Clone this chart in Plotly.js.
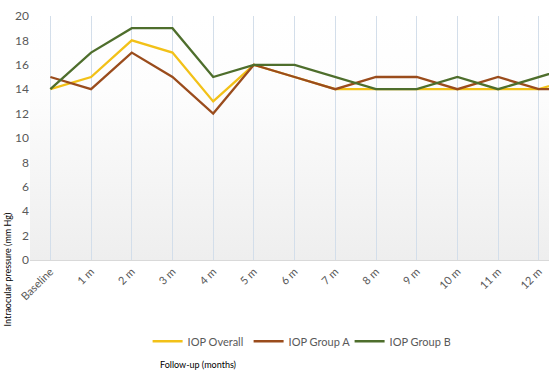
<!DOCTYPE html>
<html>
<head>
<meta charset="utf-8">
<script src="https://cdn.plot.ly/plotly-3.0.1.min.js"></script>
<style>html,body{margin:0;padding:0;background:#fff;}#chart{width:557px;height:375px;}</style>
</head>
<body>
<div id="chart"></div>
<script>
var categories = ["Baseline","1 m","2 m","3 m","4 m","5 m","6 m","7 m","8 m","9 m","10 m","11 m","12 m","18 m"];
var iopOverall = [14, 15, 18, 17, 13, 16, 15, 14, 14, 14, 14, 14, 14, 15];
var iopGroupA  = [15, 14, 17, 15, 12, 16, 15, 14, 15, 15, 14, 15, 14, 14];
var iopGroupB  = [14, 17, 19, 19, 15, 16, 16, 15, 14, 14, 15, 14, 15, 16];
var seriesNames = ["IOP Overall", "IOP Group A", "IOP Group B"];
var yTicks = [0,2,4,6,8,10,12,14,16,18,20];

var colors = ["#f2c118", "#9a4c1c", "#4e6e2c"];
var font = "Lato, 'Open Sans', sans-serif";

var traces = [iopOverall, iopGroupA, iopGroupB].map(function(v, i){
  return {x: categories, y: v, type: "scatter", mode: "lines", name: seriesNames[i],
          line: {color: colors[i], width: 2.3}, cliponaxis: true};
});

var grad = 'data:image/svg+xml;utf8,' + encodeURIComponent(
 '<svg xmlns="http://www.w3.org/2000/svg" width="100" height="100" preserveAspectRatio="none">' +
 '<defs><linearGradient id="g" x1="0" y1="0" x2="0" y2="1">' +
 '<stop offset="0" stop-color="#ffffff"/><stop offset="0.3" stop-color="#fdfdfd"/>' +
 '<stop offset="1" stop-color="#eeeeee"/></linearGradient></defs>' +
 '<rect width="100" height="100" fill="url(#g)"/></svg>');

var layout = {
  width: 557, height: 375,
  margin: {l: 30, r: 8, t: 15.5, b: 114.5, autoexpand: false},
  paper_bgcolor: "#ffffff",
  plot_bgcolor: "rgba(0,0,0,0)",
  font: {family: font, color: "#595959", size: 11},
  showlegend: true,
  legend: {orientation: "h", xref: "container", yref: "container", x: 0.265, y: 0.09,
           xanchor: "left", yanchor: "middle",
           font: {size: 11, color: "#595959", family: font}, itemwidth: 30, traceorder: "normal",
           entrywidth: 56, entrywidthmode: "pixels", bgcolor: "rgba(0,0,0,0)"},
  xaxis: {type: "category", range: [-0.5, 12.25], showgrid: true, gridcolor: "#d3deea", gridwidth: 1,
          tickangle: -45, tickfont: {size: 11, color: "#595959"}, ticks: "", showline: true,
          linecolor: "#d9d9d9", linewidth: 1, zeroline: false, fixedrange: true, automargin: false},
  yaxis: {range: [0, 20], tickvals: yTicks, showgrid: false, zeroline: false, showline: false,
          tickfont: {size: 12, color: "#595959"}, ticks: "", ticklen: 0, fixedrange: true, automargin: false},
  images: [{source: grad, xref: "paper", yref: "paper", x: 0, y: 1, sizex: 1, sizey: 1,
            sizing: "stretch", layer: "below", xanchor: "left", yanchor: "top"}],
  annotations: [
    {text: "Intraocular pressure (mm Hg)", textangle: -90, xref: "paper", yref: "paper",
     x: -0.043, y: -0.04, xanchor: "center", yanchor: "middle", showarrow: false,
     font: {size: 9, color: "#000000", family: font}},
    {text: "Follow-up (months)", xref: "paper", yref: "paper", x: 0.246, y: -0.43,
     xanchor: "left", yanchor: "middle", showarrow: false,
     font: {size: 9, color: "#000000", family: font}}
  ]
};

Plotly.newPlot("chart", traces, layout, {staticPlot: true, displayModeBar: false});
</script>
</body>
</html>
